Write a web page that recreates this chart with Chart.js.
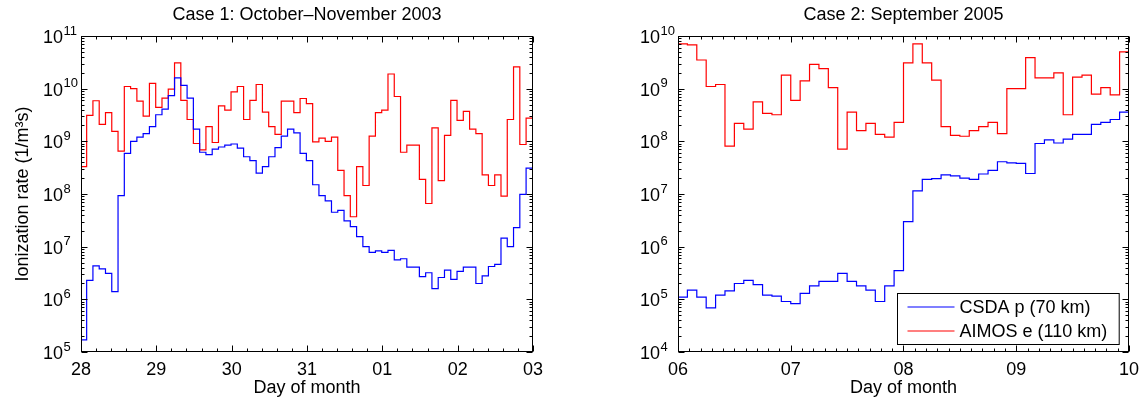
<!DOCTYPE html>
<html>
<head>
<meta charset="utf-8">
<title>Ionization rates</title>
<script src="https://cdn.jsdelivr.net/npm/chart.js@4.4.1/dist/chart.umd.min.js"></script>
<style>
  html, body { margin: 0; padding: 0; background: #fff; }
  #wrap { position: relative; width: 1146px; height: 400px; }
  .panel { position: absolute; top: 0; width: 573px; height: 400px; }
  #p1 { left: 0; }
  #p2 { left: 573px; }
</style>
</head>
<body>
<div id="wrap">
  <div class="panel" id="p1"><canvas id="case1" width="573" height="400"></canvas></div>
  <div class="panel" id="p2"><canvas id="case2" width="573" height="400"></canvas></div>
</div>
<script>
// --- data (2-hourly values) ---
const seriesNames = ['CSDA p (70 km)', 'AIMOS e (110 km)'];
const case1Title = 'Case 1: October\u2013November 2003';
const case2Title = 'Case 2: September 2005';
const yTitle = 'Ionization rate (1/m\u00b3s)';
const xTitle = 'Day of month';

const case1Days = ['28', '29', '30', '31', '01', '02', '03'];
const case2Days = ['06', '07', '08', '09', '10'];

// Case 1, CSDA protons at 70 km
const case1Proton = [
  1.7e5, 2.3e6, 4.3e6, 3.8e6, 3.1e6, 1.4e6, 9.3e7, 5.9e8, 1.0e9, 1.2e9, 1.4e9, 1.9e9,
  3.2e9, 4.1e9, 7.4e9, 1.6e10, 1.15e10, 6.6e9, 1.7e9, 6.2e8, 5.6e8, 7.1e8, 7.8e8, 8.5e8,
  8.9e8, 7.4e8, 5.1e8, 4.3e8, 2.5e8, 3.3e8, 5.1e8, 7.6e8, 1.26e9, 1.7e9, 1.45e9, 5.9e8,
  4.3e8, 1.5e8, 9.3e7, 7.4e7, 4.5e7, 4.9e7, 3.1e7, 2.4e7, 1.55e7, 1.0e7, 7.8e6, 8.3e6,
  7.8e6, 8.5e6, 5.6e6, 5.9e6, 4.1e6, 4.1e6, 2.7e6, 3.2e6, 1.6e6, 2.6e6, 3.6e6, 2.4e6,
  3.4e6, 4.1e6, 4.1e6, 2.0e6, 2.8e6, 4.2e6, 4.6e6, 1.45e7, 1.0e7, 2.3e7, 9.8e7, 3.1e8
];
// Case 1, AIMOS electrons at 110 km
const case1Electron = [
  3.3e8, 3.1e9, 5.9e9, 2.1e9, 3.5e9, 1.55e9, 6.5e8, 1.1e10, 1.0e10, 5.8e9, 3.0e9, 1.26e10,
  4.4e9, 6.6e9, 9.8e9, 3.1e10, 6.0e9, 2.6e9, 9.1e8, 6.9e8, 1.9e9, 9.5e8, 4.7e9, 3.9e9,
  8.7e9, 1.1e10, 2.6e9, 6.0e9, 1.2e10, 3.6e9, 1.9e9, 1.35e9, 5.8e9, 5.8e9, 3.5e9, 6.5e9,
  5.2e9, 9.8e8, 1.15e9, 1.0e9, 1.2e9, 2.8e8, 9.3e7, 3.7e7, 3.3e8, 1.45e8, 1.26e9, 3.5e9,
  3.9e9, 1.9e10, 7.1e9, 6.2e8, 8.5e8, 8.5e8, 1.9e8, 6.6e7, 1.8e9, 1.8e8, 1.3e9, 6.0e9,
  2.5e9, 3.7e9, 1.7e9, 1.4e9, 2.3e8, 1.45e8, 2.3e8, 9.1e7, 2.6e9, 2.6e10, 8.7e8, 2.75e9
];
// Case 2, CSDA protons at 70 km
const case2Proton = [
  1.1e5, 1.5e5, 1.1e5, 6.9e4, 1.2e5, 1.45e5, 2.0e5, 2.3e5, 1.9e5, 1.2e5, 1.15e5, 9.1e4,
  8.3e4, 1.3e5, 1.8e5, 2.2e5, 2.2e5, 3.1e5, 2.2e5, 1.8e5, 1.5e5, 9.1e4, 1.8e5, 3.5e5,
  3.0e6, 1.15e7, 1.9e7, 1.95e7, 2.3e7, 2.2e7, 2.0e7, 1.9e7, 2.4e7, 2.8e7, 4.1e7, 3.9e7,
  3.8e7, 2.45e7, 9.1e7, 1.07e8, 9.3e7, 1.1e8, 1.35e8, 1.35e8, 2.1e8, 2.3e8, 2.6e8, 3.6e8
];
// Case 2, AIMOS electrons at 110 km
const case2Electron = [
  7.1e9, 6.8e9, 3.5e9, 1.1e9, 1.2e9, 8.1e7, 2.2e8, 1.7e8, 5.6e8, 3.4e8, 3.2e8, 1.8e9,
  6.0e8, 1.4e9, 2.9e9, 2.4e9, 1.05e9, 7.1e7, 3.6e8, 1.6e8, 2.2e8, 1.35e8, 1.2e8, 2.3e8,
  3.1e9, 7.1e9, 3.1e9, 1.45e9, 1.9e8, 1.3e8, 1.25e8, 1.6e8, 1.9e8, 2.3e8, 1.4e8, 1.0e9,
  1.0e9, 3.9e9, 1.6e9, 1.6e9, 2.0e9, 3.2e8, 1.65e9, 1.8e9, 7.9e8, 1.05e9, 7.6e8, 5.0e9
];

const STEP_HOURS = 2;          // sampling of both series
const case1StartHour = -0.2;   // first sample time relative to 28 Oct 00 UT
const case2StartHour = 0;

const FONT = '"Liberation Sans", Arial, Helvetica, sans-serif';
Chart.defaults.font.family = FONT;
Chart.defaults.font.size = 18;
Chart.defaults.color = '#000';

// Matlab-like box: frame, inward major/minor ticks, 10^n labels, title, legend
const matlabAxes = {
  id: 'matlabAxes',
  afterDatasetsDraw(chart, args, opts) {
    const { ctx, chartArea: a, scales: { x, y } } = chart;
    const L = Math.round(a.left) + 0.5, R = Math.round(a.right) - 0.5;
    const T = Math.round(a.top) + 0.5, B = Math.round(a.bottom) - 0.5;
    ctx.save();
    ctx.strokeStyle = '#000';
    ctx.lineWidth = 1;
    ctx.strokeRect(L, T, R - L, B - T);

    ctx.beginPath();
    const nx = Math.round((x.max - x.min) / opts.xMinor);
    for (let i = 0; i <= nx; i++) {
      const v = x.min + i * opts.xMinor;
      const px = Math.round(x.getPixelForValue(v)) + 0.5;
      const len = (i % Math.round(1 / opts.xMinor) === 0) ? 6 : 3;
      ctx.moveTo(px, B); ctx.lineTo(px, B - len);
      ctx.moveTo(px, T); ctx.lineTo(px, T + len);
    }
    const e0 = Math.round(Math.log10(y.min)), e1 = Math.round(Math.log10(y.max));
    for (let e = e0; e <= e1; e++) {
      for (let m = 1; m <= 9; m++) {
        if (e === e1 && m > 1) break;
        const py = Math.round(y.getPixelForValue(m * Math.pow(10, e))) + 0.5;
        const len = m === 1 ? 6 : 3;
        ctx.moveTo(L, py); ctx.lineTo(L + len, py);
        ctx.moveTo(R, py); ctx.lineTo(R - len, py);
      }
    }
    ctx.stroke();

    // y tick labels 10^n
    ctx.fillStyle = '#000';
    for (let e = e0; e <= e1; e++) {
      const py = y.getPixelForValue(Math.pow(10, e));
      const bx = a.left - opts.labelGap;
      ctx.font = '18px ' + FONT;
      ctx.textAlign = 'right';
      ctx.textBaseline = 'middle';
      ctx.fillText('10', bx, py + 2);
      ctx.font = '13px ' + FONT;
      ctx.textAlign = 'left';
      ctx.textBaseline = 'alphabetic';
      ctx.fillText(String(e), bx + 0.5, py - 1.5);
    }

    // title centred on the axes
    ctx.font = '18px ' + FONT;
    ctx.textAlign = 'center';
    ctx.textBaseline = 'middle';
    ctx.fillText(opts.title, (a.left + a.right) / 2, 15);

    if (opts.legend) {
      const ds = chart.data.datasets;
      ctx.font = '18px ' + FONT;
      const tw = Math.max(...ds.map(d => ctx.measureText(d.label).width));
      const w = 10 + 47 + 5 + tw + 12, h = 51;
      const bx = Math.round(a.right - 10 - w) + 0.5, by = Math.round(a.bottom - 8 - h) + 0.5;
      ctx.fillStyle = '#fff';
      ctx.fillRect(bx, by, w, h);
      ctx.strokeRect(bx, by, w, h);
      ds.forEach((d, i) => {
        const ly = by + 13.5 + i * 24;
        ctx.strokeStyle = d.borderColor;
        ctx.lineWidth = 1.2;
        ctx.beginPath();
        ctx.moveTo(bx + 10, ly); ctx.lineTo(bx + 57, ly);
        ctx.stroke();
        ctx.fillStyle = '#000';
        ctx.textAlign = 'left';
        ctx.textBaseline = 'middle';
        ctx.fillText(d.label, bx + 62, ly + 1);
      });
    }
    ctx.restore();
  }
};

function stairs(values, startHour, endDay) {
  const pts = values.map((v, i) => ({ x: (startHour + i * STEP_HOURS) / 24, y: v }));
  pts.push({ x: endDay, y: values[values.length - 1] });
  return pts;
}

function makeChart(id, cfg) {
  const days = cfg.dayLabels.length - 1;
  const line = (label, vals, color) => ({
    label: label,
    data: stairs(vals, cfg.startHour, days),
    borderColor: color,
    borderWidth: 1.2,
    pointRadius: 0,
    stepped: true,
    fill: false,
    clip: 0
  });
  return new Chart(document.getElementById(id), {
    type: 'line',
    data: {
      datasets: [
        line(seriesNames[0], cfg.proton, '#0000ff'),
        line(seriesNames[1], cfg.electron, '#ff0000')
      ]
    },
    options: {
      responsive: false,
      animation: false,
      events: [],
      layout: { padding: { top: 36, right: cfg.padRight, bottom: 0, left: 0 } },
      plugins: {
        legend: { display: false },
        tooltip: { enabled: false },
        matlabAxes: { title: cfg.title, xMinor: cfg.xMinor, labelGap: 18, legend: cfg.legend }
      },
      scales: {
        x: {
          type: 'linear', min: 0, max: days,
          grid: { display: false, drawTicks: false },
          border: { display: false },
          ticks: {
            stepSize: 1, padding: 7, maxRotation: 0, autoSkip: false,
            callback: v => Number.isInteger(v) ? cfg.dayLabels[v] : ''
          },
          title: { display: true, text: xTitle, padding: { top: 0, bottom: 1 } },
          afterFit: s => { s.height = 48; }
        },
        y: {
          type: 'logarithmic', min: cfg.yMin, max: cfg.yMax,
          grid: { display: false, drawTicks: false },
          border: { display: false },
          ticks: { display: false },
          title: { display: !!cfg.yTitle, text: cfg.yTitle || '', padding: { top: 12, bottom: 0 } },
          afterFit: s => { s.width = cfg.yWidth; }
        }
      }
    },
    plugins: [matlabAxes]
  });
}

makeChart('case1', {
  title: case1Title, dayLabels: case1Days, proton: case1Proton, electron: case1Electron,
  startHour: case1StartHour, yMin: 1e5, yMax: 1e11, xMinor: 0.2,
  yWidth: 81, padRight: 40, yTitle: yTitle, legend: false
});
makeChart('case2', {
  title: case2Title, dayLabels: case2Days, proton: case2Proton, electron: case2Electron,
  startHour: case2StartHour, yMin: 1e4, yMax: 1e10, xMinor: 0.1,
  yWidth: 105, padRight: 15, legend: true
});
</script>
</body>
</html>
